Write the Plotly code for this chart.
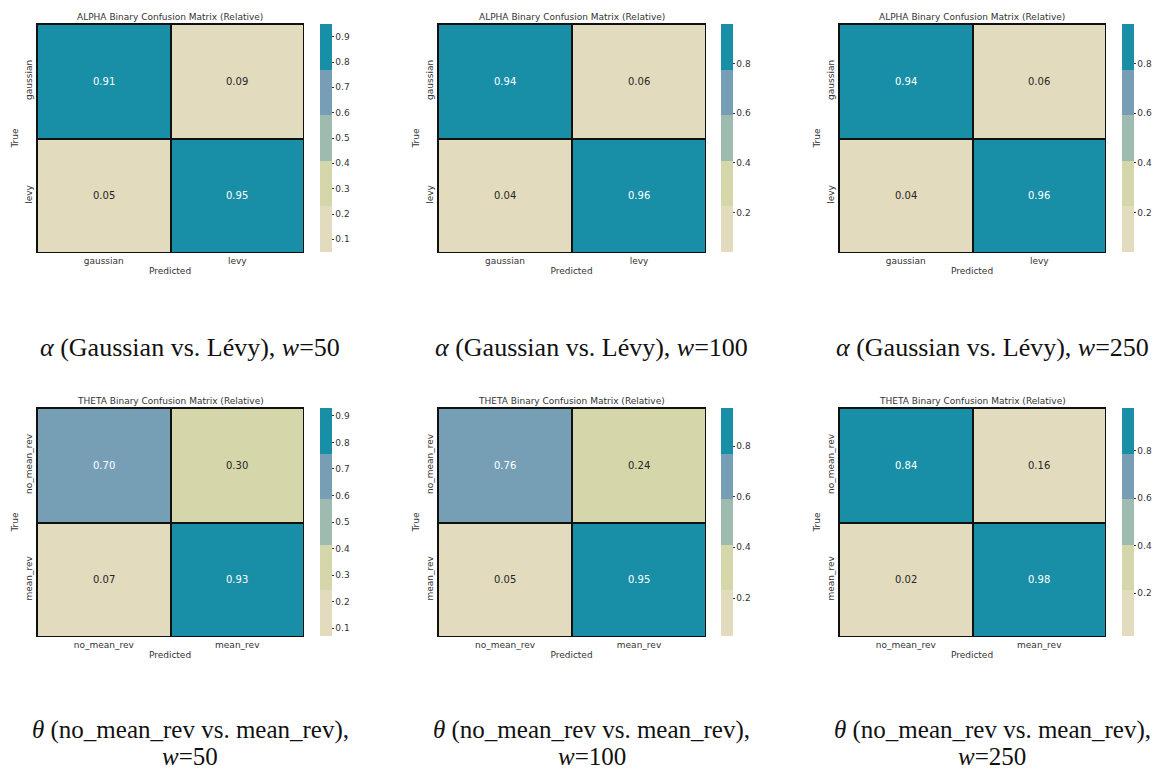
import plotly.graph_objects as go

W, H = 1158, 769

# ---------------- data ----------------
alpha_labels = ["gaussian", "levy"]
theta_labels = ["no_mean_rev", "mean_rev"]

alpha_w50 = [[0.91, 0.09], [0.05, 0.95]]
alpha_w100 = [[0.94, 0.06], [0.04, 0.96]]
alpha_w250 = [[0.94, 0.06], [0.04, 0.96]]
theta_w50 = [[0.70, 0.30], [0.07, 0.93]]
theta_w100 = [[0.76, 0.24], [0.05, 0.95]]
theta_w250 = [[0.84, 0.16], [0.02, 0.98]]

window_sizes = [50, 100, 250]
panel_titles = ["ALPHA Binary Confusion Matrix (Relative)",
                "THETA Binary Confusion Matrix (Relative)"]

# ---------------- style ----------------
palette = ["#E2DBBE", "#D5D6AA", "#9DBBAE", "#769FB6", "#188FA7"]
col_x = [(37, 303), (438, 705), (839, 1105)]   # pixel extents of heatmaps
row_y = [(24, 252), (408, 636)]
cbar_dticks = [[0.1, 0.2, 0.2], [0.1, 0.2, 0.2]]
tick_font = dict(family="DejaVu Sans", size=9, color="#333333")
cap_font_1 = dict(family="Liberation Serif", size=26, color="#111111")
cap_font_2 = dict(family="Liberation Serif", size=25, color="#111111")
GAP = 2  # px, cell divider width


def step_scale(colors):
    n = len(colors)
    cs = []
    for i, c in enumerate(colors):
        cs.append([i / n, c])
        cs.append([(i + 1) / n, c])
    return cs


def lum(hexc):
    r, g, b = (int(hexc[i:i + 2], 16) / 255 for i in (1, 3, 5))
    f = lambda c: c / 12.92 if c <= 0.03928 else ((c + 0.055) / 1.055) ** 2.4
    return 0.2126 * f(r) + 0.7152 * f(g) + 0.0722 * f(b)


def px_x(p):
    return p / W


def px_y(p):
    return 1 - p / H


rows = [
    (alpha_labels, [alpha_w50, alpha_w100, alpha_w250]),
    (theta_labels, [theta_w50, theta_w100, theta_w250]),
]

fig = go.Figure()
annotations = []
k = 0
for r, (labels, mats) in enumerate(rows):
    y0, y1 = row_y[r]
    for c, z in enumerate(mats):
        k += 1
        x0, x1 = col_x[c]
        xa = "x" if k == 1 else f"x{k}"
        ya = "y" if k == 1 else f"y{k}"
        flat = [v for row in z for v in row]
        zmin, zmax = min(flat), max(flat)
        nlab = len(labels)
        dx = GAP * nlab / (x1 - x0)
        dy = GAP * nlab / (y1 - y0)
        fig.add_trace(go.Heatmap(
            z=z, x=labels, y=labels, xaxis=xa, yaxis=ya,
            zmin=zmin, zmax=zmax, colorscale=step_scale(palette),
            xgap=GAP, ygap=GAP, hoverinfo="skip",
            colorbar=dict(
                x=px_x(320 + (x0 - 37)), xanchor="left",
                y=px_y((y0 + y1) / 2), yanchor="middle",
                len=(y1 - y0) / H, lenmode="fraction",
                thickness=12, outlinewidth=0,
                ticks="outside", ticklen=2, tickcolor="#333333",
                tickfont=tick_font, dtick=cbar_dticks[r][c],
                tick0=0, tickformat=".1f", xpad=0, ypad=0,
            ),
        ))
        # cell annotations
        n = len(palette)
        for i, lab_y in enumerate(labels):
            for j, lab_x in enumerate(labels):
                v = z[i][j]
                b = min(int((v - zmin) / (zmax - zmin) * n), n - 1)
                tc = "#ffffff" if lum(palette[b]) < 0.408 else "#262626"
                annotations.append(dict(
                    x=lab_x, y=lab_y, xref=xa, yref=ya, text=f"{v:.2f}",
                    showarrow=False, font=dict(family="DejaVu Sans", size=10, color=tc)))
        axx = dict(domain=[px_x(x0), px_x(x1)], anchor=ya, showgrid=False,
                   showline=True, mirror=True, linecolor="#111111", linewidth=1.2,
                   ticks="", tickfont=tick_font, zeroline=False,
                   range=[-0.5, nlab - 0.5 - dx / 2],
                   title=dict(text="Predicted", font=tick_font, standoff=2))
        axy = dict(domain=[px_y(y1), px_y(y0)], anchor=xa, showgrid=False,
                   showline=True, mirror=True, linecolor="#111111", linewidth=1.2,
                   ticks="", tickfont=tick_font, tickangle=-90, zeroline=False,
                   range=[nlab - 0.5 - dy / 2, -0.5],
                   title=dict(text="True", font=tick_font, standoff=4))
        fig.layout[("xaxis" if k == 1 else f"xaxis{k}")] = axx
        fig.layout[("yaxis" if k == 1 else f"yaxis{k}")] = axy
        # panel title
        annotations.append(dict(
            x=px_x((x0 + x1) / 2), y=px_y(y0 - 7), xref="paper", yref="paper",
            xanchor="center", yanchor="middle", showarrow=False,
            text=panel_titles[r], font=dict(family="DejaVu Sans", size=9, color="#333333")))
        # caption
        cx = px_x((x0 + x1) / 2 + 20)
        if r == 0:
            cap_lines = [(f"<i>α</i> (Gaussian vs. Lévy), <i>w</i>={window_sizes[c]}", 347, cap_font_1)]
        else:
            cap_lines = [("<i>θ</i> (no_mean_rev vs. mean_rev),", 730, cap_font_2),
                         (f"<i>w</i>={window_sizes[c]}", 756, cap_font_2)]
        for txt, yy, fnt in cap_lines:
            annotations.append(dict(x=cx, y=px_y(yy), xref="paper", yref="paper",
                                    xanchor="center", yanchor="middle", showarrow=False,
                                    text=txt, font=fnt))

fig.update_layout(
    width=W, height=H, margin=dict(l=0, r=0, t=0, b=0),
    paper_bgcolor="white", plot_bgcolor="#111111",
    annotations=annotations, showlegend=False,
)

fig.write_html("out.html", config={"displayModeBar": False},
               post_script="document.body.style.margin='0';document.body.style.padding='0';")
